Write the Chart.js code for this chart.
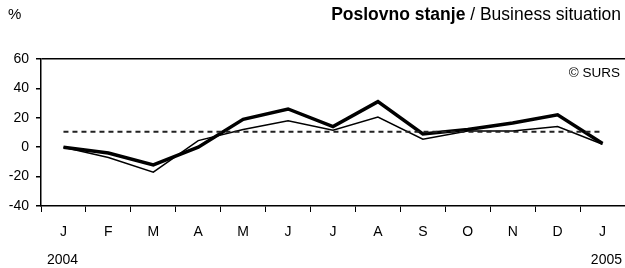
<!DOCTYPE html>
<html>
<head>
<meta charset="utf-8">
<script src="https://cdn.jsdelivr.net/npm/chart.js@4.4.0/dist/chart.umd.min.js"></script>
<style>
  html, body { margin: 0; padding: 0; background: #fff; }
  #wrap { width: 625px; height: 268px; position: relative; }
</style>
</head>
<body>
<div id="wrap"><canvas id="chart" width="625" height="268"></canvas></div>
<script>
// podatki
const months = ["J", "F", "M", "A", "M", "J", "J", "A", "S", "O", "N", "D", "J"];
const seriesThick = [0, -4, -12, 0, 19, 26, 14, 31, 9, 12, 16.5, 22, 2.5];
const seriesThin = [0, -7, -17, 4.5, 12, 18, 11.5, 20.5, 5.5, 11, 11, 14, 2];
const averageLine = [10.5, 10.5, 10.5, 10.5, 10.5, 10.5, 10.5, 10.5, 10.5, 10.5, 10.5, 10.5, 10.5];
const yTicks = [60, 40, 20, 0, -20, -40];

const FONT = "'Liberation Sans', Arial, sans-serif";

// napisi okoli grafa
const textPlugin = {
  id: "texts",
  afterDraw(chart) {
    const ctx = chart.ctx;
    ctx.save();
    ctx.fillStyle = "#000";
    ctx.textBaseline = "middle";
    ctx.font = "15px " + FONT;
    ctx.textAlign = "left";
    ctx.fillText("%", 8, 15);

    // naslov: krepki del + navadni del
    const bold = "Poslovno stanje";
    const rest = " / Business situation";
    ctx.font = "17.5px " + FONT;
    const wRest = ctx.measureText(rest).width;
    ctx.font = "bold 17.5px " + FONT;
    const wBold = ctx.measureText(bold).width;
    const xEnd = 621;
    ctx.fillText(bold, xEnd - wRest - wBold, 15);
    ctx.font = "17.5px " + FONT;
    ctx.fillText(rest, xEnd - wRest, 15);

    ctx.font = "13.5px " + FONT;
    ctx.textAlign = "right";
    ctx.fillText("\u00A9 SURS", 620, 73);

    ctx.font = "14px " + FONT;
    ctx.textAlign = "left";
    ctx.fillText("2004", 47, 260);
    ctx.textAlign = "right";
    ctx.fillText("2005", 622, 260);
    ctx.restore();
  }
};

new Chart(document.getElementById("chart"), {
  type: "line",
  data: {
    labels: months,
    datasets: [
      {
        label: "povprecje",
        data: averageLine,
        borderColor: "#222",
        borderWidth: 2,
        borderDash: [5, 4],
        pointRadius: 0,
        fill: false,
      },
      {
        label: "tanka",
        data: seriesThin,
        borderColor: "#000",
        borderWidth: 1.5,
        pointRadius: 0,
        tension: 0,
        fill: false,
      },
      {
        label: "debela",
        data: seriesThick,
        borderColor: "#000",
        borderWidth: 3.5,
        pointRadius: 0,
        tension: 0,
        fill: false,
      },
    ],
  },
  options: {
    responsive: false,
    animation: false,
    layout: { padding: { top: 59, right: 0, left: 0, bottom: 0 } },
    plugins: { legend: { display: false }, tooltip: { enabled: false } },
    scales: {
      x: {
        offset: true,
        grid: {
          offset: true,
          drawOnChartArea: false,
          drawTicks: true,
          tickLength: 6,
          tickColor: "#000",
          color: "#000",
        },
        border: { color: "#000", width: 1.5 },
        ticks: {
          color: "#000",
          font: { family: FONT, size: 14 },
          padding: 12,
          autoSkip: false,
          maxRotation: 0,
        },
        afterFit(scale) { scale.height = 62; },
      },
      y: {
        min: -40,
        max: 60,
        afterBuildTicks(scale) {
          scale.ticks = yTicks.map(v => ({ value: v }));
        },
        grid: {
          color: (c) => (c.tick && c.tick.value === 60 ? "#000" : "rgba(0,0,0,0)"),
          lineWidth: 1.5,
          tickColor: "#000",
          tickLength: 5,
        },
        border: { color: "#000", width: 1.5 },
        ticks: {
          color: "#000",
          font: { family: FONT, size: 14 },
          padding: 7,
        },
        afterFit(scale) { scale.width = 41; },
      },
    },
  },
  plugins: [textPlugin],
});
</script>
</body>
</html>
